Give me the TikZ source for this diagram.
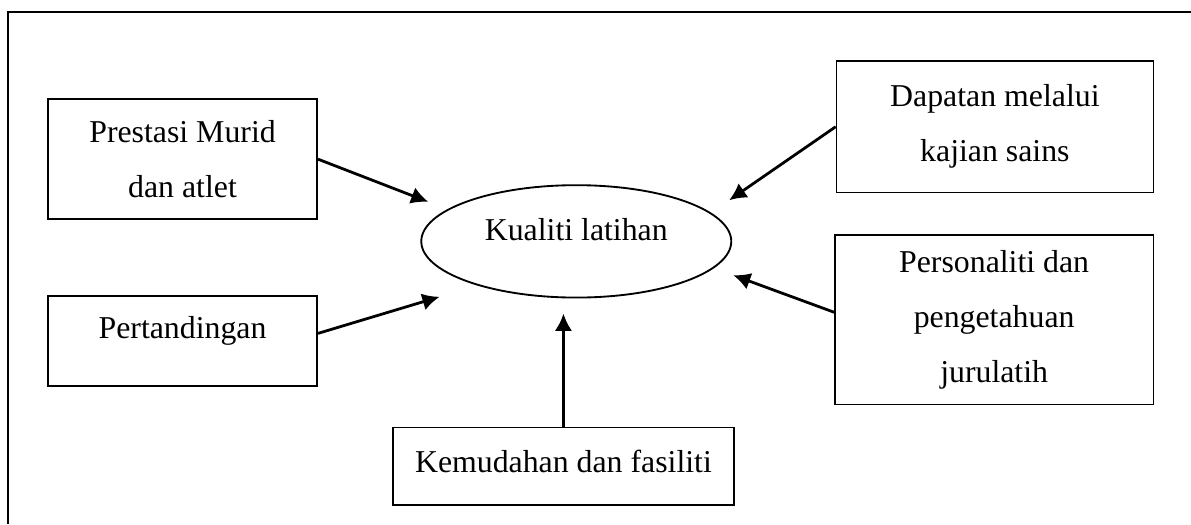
\documentclass[tikz,border=0pt]{standalone}
\usepackage{fontspec}
\setmainfont{Liberation Serif}
\usetikzlibrary{arrows.meta, shapes.geometric}

\begin{document}
\begin{tikzpicture}[
  factor/.style={draw, line width=0.6pt, align=center, inner sep=0pt,
    font=\fontsize{12}{20.75}\selectfont},
  core/.style={ellipse, draw, line width=0.7pt, inner sep=0pt,
    font=\fontsize{12}{20.75}\selectfont},
  link/.style={line width=1.05pt, -{Latex[length=6.5pt,width=6.5pt]}}
]
% page size and open frame
\useasboundingbox (0,0) rectangle (15.79,-6.95);
\draw[line width=0.85pt] (15.79,-0.16) -- (0.11,-0.16) -- (0.11,-6.95);

\node[core, minimum width=4.11cm, minimum height=1.49cm, text depth=0.31cm] (kualiti) at (7.64,-3.20) {Kualiti latihan};

\node[factor, minimum width=3.57cm, minimum height=1.59cm] (prestasi) at (2.42,-2.11) {Prestasi Murid\\dan atlet};
\node[factor, minimum width=3.57cm, minimum height=1.19cm, text depth=0.37cm] (pertandingan) at (2.42,-4.52) {Pertandingan};
\node[factor, minimum width=4.20cm, minimum height=1.74cm] (dapatan) at (13.19,-1.68) {Dapatan melalui\\kajian sains};
\node[factor, minimum width=4.22cm, minimum height=2.25cm] (personaliti) at (13.18,-4.24) {Personaliti dan\\pengetahuan\\jurulatih};
\node[factor, minimum width=4.52cm, minimum height=1.03cm, text depth=0.14cm] (kemudahan) at (7.47,-6.18) {Kemudahan dan fasiliti};

\draw[link, shorten >=0.27cm] (prestasi.east) -- (kualiti.166);
\draw[link, shorten >=0.52cm] ([yshift=0.1cm]pertandingan.east) -- (kualiti.204);
\draw[link, shorten >=0.2cm] (kemudahan.north) -- (kemudahan.north |- kualiti.south);
\draw[link, shorten >=0.29cm] (dapatan.west) -- (kualiti.12);
\draw[link, shorten >=0.27cm] ([yshift=0.1cm]personaliti.west) -- (kualiti.349);

\end{tikzpicture}
\end{document}
